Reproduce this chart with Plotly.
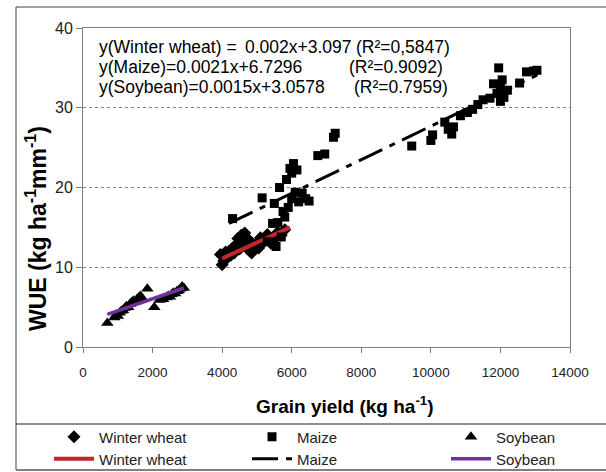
import plotly.graph_objects as go

# ---------------- data ----------------
wheat_x = [3950, 4000, 4050, 4100, 4150, 4200, 4250, 4300, 4350, 4400, 4450, 4500, 4550, 4600, 4650,
           4700, 4750, 4800, 4850, 4900, 5000, 5050, 5100, 5200, 5300, 5400, 5500, 5600, 5700, 5800]
wheat_y = [11.6, 10.3, 10.8, 11.9, 11.2, 12.0, 11.5, 12.4, 11.8, 12.8, 13.6, 12.3, 14.0, 13.2, 14.3,
           12.7, 13.5, 12.0, 11.8, 12.6, 13.0, 12.4, 13.7, 13.2, 14.1, 13.0, 13.5, 14.4, 14.0, 14.7]

maize_x = [4300, 5150, 5300, 5450, 5500, 5550, 5600, 5650, 5700, 5750, 5800, 5850, 5900, 5950, 6000,
           6000, 6050, 6100, 6150, 6200, 6300, 6400, 6500, 6750, 6950, 7200, 7250, 9450, 10000, 10050,
           10400, 10500, 10600, 10650, 10850, 11050, 11200, 11350, 11500, 11700, 11800, 11900, 11950,
           12000, 12000, 12050, 12100, 12200, 12550, 12750, 12950, 13050]
maize_y = [16.1, 18.7, 13.2, 15.5, 18.0, 12.6, 15.6, 20.0, 13.8, 17.0, 16.3, 21.0, 17.5, 22.4, 21.8,
           18.6, 23.0, 19.4, 22.2, 18.2, 19.3, 18.6, 18.3, 24.0, 24.2, 26.3, 26.8, 25.2, 25.9, 26.6,
           28.2, 27.3, 26.7, 27.6, 29.0, 29.4, 29.8, 30.4, 31.0, 31.2, 33.0, 31.8, 35.0,
           32.6, 30.8, 33.5, 31.3, 32.2, 33.1, 34.5, 34.6, 34.7]

soy_x = [700, 900, 950, 1000, 1050, 1100, 1150, 1200, 1250, 1300, 1350, 1400, 1450, 1500, 1550, 1600,
         1650, 1700, 1850, 2050, 2200, 2300, 2400, 2450, 2500, 2550, 2600, 2650, 2700, 2750, 2800, 2850, 2900]
soy_y = [3.0, 3.7, 4.0, 3.9, 4.3, 4.5, 4.6, 4.9, 5.1, 5.0, 5.4, 5.6, 5.8, 5.7, 6.0, 6.2,
         6.4, 6.1, 7.3, 5.0, 5.9, 6.0, 6.2, 6.4, 6.3, 6.6, 6.8, 6.7, 7.0, 7.1, 7.3, 7.6, 7.4]

# trendline end points
wheat_fit_x = [4000, 5950]
wheat_fit_y = [11.1, 15.0]
maize_fit_x = [4200, 13050]
maize_fit_y = [15.5, 34.1]
soy_fit_x = [700, 2900]
soy_fit_y = [4.1, 7.4]

eq_names = ["y(Winter wheat) =", "y(Maize)=0.0021x+6.7296", "y(Soybean)=0.0015x+3.0578"]
eq_wheat_rhs = "0.002x+3.097"
r2_labels = ["(R²=0,5847)", "(R²=0.9092)", "(R²=0.7959)"]

x_ticks = [0, 2000, 4000, 6000, 8000, 10000, 12000, 14000]
y_ticks = [0, 10, 20, 30, 40]

# ---------------- geometry helpers (pixels -> paper) ----------------
W, H = 606, 472
ML, MR, MT, MB = 83, 36, 28, 125
PW, PH = W - ML - MR, H - MT - MB


def px(x):
    return (x - ML) / PW


def py(y):
    return (H - MB - y) / PH


RED = "#C0272D"
PURPLE = "#7030A0"
FONT = "Liberation Sans, Arial, sans-serif"

fig = go.Figure()
fig.add_trace(go.Scatter(x=wheat_x, y=wheat_y, mode="markers", name="Winter wheat",
                         marker=dict(symbol="diamond", size=10, color="black"),
                         legend="legend"))
fig.add_trace(go.Scatter(x=wheat_fit_x, y=wheat_fit_y, mode="lines", name="Winter wheat",
                         line=dict(color=RED, width=4), legend="legend4"))
fig.add_trace(go.Scatter(x=maize_x, y=maize_y, mode="markers", name="Maize",
                         marker=dict(symbol="square", size=9, color="black"),
                         legend="legend2"))
fig.add_trace(go.Scatter(x=maize_fit_x, y=maize_fit_y, mode="lines", name="Maize",
                         line=dict(color="black", width=3, dash="26px,8px,6px,8px"),
                         legend="legend5"))
fig.add_trace(go.Scatter(x=soy_x, y=soy_y, mode="markers", name="Soybean",
                         marker=dict(symbol="triangle-up", size=11, color="black"),
                         legend="legend3"))
fig.add_trace(go.Scatter(x=soy_fit_x, y=soy_fit_y, mode="lines", name="Soybean",
                         line=dict(color=PURPLE, width=3.5), legend="legend6"))

# legends: 2 rows x 3 columns
text_x = [100, 298, 497]
row_y = [437, 459]
legend_defs = {}
names = ["legend", "legend2", "legend3", "legend4", "legend5", "legend6"]
for i, nm in enumerate(names):
    r, c = divmod(i, 3)
    legend_defs[nm] = dict(x=px(text_x[c] - 51), y=py(row_y[r]), xanchor="left", yanchor="middle",
                           orientation="h", itemwidth=40, bgcolor="rgba(0,0,0,0)",
                           font=dict(family=FONT, size=15, color="#222"), borderwidth=0)

EQ_SIZE = 17.5
annotations = []
eq_y = [47, 67, 87]
r2_x = [354, 347, 352]
for i in range(3):
    annotations.append(dict(text=eq_names[i], x=px(97), y=py(eq_y[i]), xref="paper", yref="paper",
                            xanchor="left", yanchor="middle", showarrow=False,
                            font=dict(family=FONT, size=EQ_SIZE, color="black")))
    annotations.append(dict(text=r2_labels[i], x=px(r2_x[i]), y=py(eq_y[i]), xref="paper", yref="paper",
                            xanchor="left", yanchor="middle", showarrow=False,
                            font=dict(family=FONT, size=EQ_SIZE, color="black")))
annotations.append(dict(text=eq_wheat_rhs, x=px(243), y=py(eq_y[0]), xref="paper", yref="paper",
                        xanchor="left", yanchor="middle", showarrow=False,
                        font=dict(family=FONT, size=EQ_SIZE, color="black")))
annotations.append(dict(text="<b>Grain yield (kg ha<sup>-1</sup>)</b>", x=px(345), y=py(405),
                        xref="paper", yref="paper", xanchor="center", yanchor="middle", showarrow=False,
                        font=dict(family=FONT, size=19, color="black")))
annotations.append(dict(text="<b>WUE (kg ha<sup>-1</sup>mm<sup>-1</sup>)</b>", x=px(36), y=py(229),
                        xref="paper", yref="paper", xanchor="center", yanchor="middle", showarrow=False,
                        textangle=-90, font=dict(family=FONT, size=23, color="black")))

shapes = [
    dict(type="line", xref="paper", yref="paper", x0=px(16), x1=px(16), y0=py(470), y1=py(7),
         line=dict(color="#404040", width=1)),
    dict(type="line", xref="paper", yref="paper", x0=px(16), x1=px(620), y0=py(7), y1=py(7),
         line=dict(color="#404040", width=1)),
    dict(type="line", xref="paper", yref="paper", x0=px(16), x1=px(620), y0=py(424), y1=py(424),
         line=dict(color="#202020", width=1)),
    dict(type="line", xref="paper", yref="paper", x0=px(16), x1=px(620), y0=py(470), y1=py(470),
         line=dict(color="#808080", width=2)),
]

fig.update_layout(
    width=W, height=H,
    margin=dict(l=ML, r=MR, t=MT, b=MB, autoexpand=False),
    paper_bgcolor="white", plot_bgcolor="white",
    font=dict(family=FONT, color="#222"),
    showlegend=True,
    annotations=annotations,
    shapes=shapes,
    xaxis=dict(range=[0, 14000], tickvals=x_ticks, ticktext=[str(v) for v in x_ticks],
               ticks="outside", ticklen=5, tickcolor="#808080", ticklabelstandoff=8,
               showline=True, linecolor="#808080", linewidth=1, mirror=True,
               showgrid=False, zeroline=False, tickfont=dict(size=13.5, color="#222")),
    yaxis=dict(range=[0, 40], tickvals=y_ticks, ticktext=[str(v) for v in y_ticks],
               ticks="outside", ticklen=6, tickcolor="#808080",
               showline=True, linecolor="#808080", linewidth=1, mirror=True,
               showgrid=True, gridcolor="#808080", griddash="dot", gridwidth=1,
               zeroline=False, tickfont=dict(size=16, color="#222")),
    **legend_defs,
)

fig.write_html("out.html")
